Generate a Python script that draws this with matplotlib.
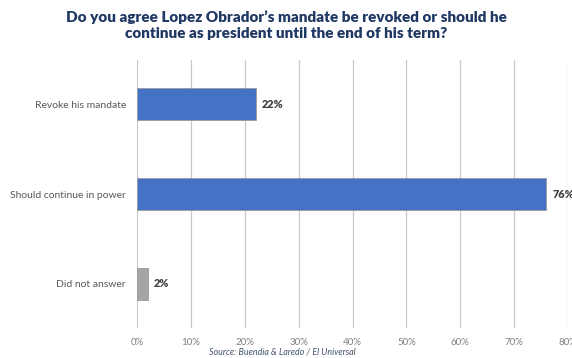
import matplotlib
matplotlib.use("Agg")
import matplotlib.pyplot as plt

categories = ["Revoke his mandate", "Should continue in power", "Did not answer"]
values = [22, 76, 2]
colors = ["#4472C4", "#4472C4", "#A5A5A5"]
xticks = [0, 10, 20, 30, 40, 50, 60, 70, 80]
xticklabels = ["0%", "10%", "20%", "30%", "40%", "50%", "60%", "70%", "80%"]

plt.rcParams['font.family'] = ['Lato', 'DejaVu Sans']

fig = plt.figure(figsize=(5.72, 3.58), dpi=100)
ax = fig.add_axes([137/572, 1-328/358, 431/572, (328-60)/358])

y = list(range(len(categories)))
ax.barh(y, values, height=0.36, color=colors, edgecolor="#9a9a9a", linewidth=0.6, zorder=3)
for yi, v in zip(y, values):
    ax.text(v + 1.1, yi, f"{v}%", va="center", ha="left", fontsize=7.8,
            fontweight="heavy", color="#404040")

ax.set_ylim(2.49, -0.49)
ax.set_xlim(0, 80)
ax.set_xticks(xticks)
ax.set_xticklabels(xticklabels, fontsize=7, color="#7f7f7f")
ax.set_yticks(y)
ax.set_yticklabels(categories, fontsize=7.5, color="#595959")
ax.tick_params(axis="y", length=0, pad=8)
ax.tick_params(axis="x", length=0, pad=7)
ax.grid(axis="x", color="#c8c8c8", linewidth=0.9, zorder=0)
for s in ax.spines.values():
    s.set_visible(False)

fig.text(0.5, 1-25/358, "Do you agree Lopez Obrador’s mandate be revoked or should he\ncontinue as president until the end of his term?",
         ha="center", va="center", fontsize=11, fontweight="heavy", color="#203864",
         linespacing=1.2)
fig.text(0.493, 1-352/358, "Source: Buendia & Laredo / El Universal", ha="center", va="center",
         fontsize=6.4, style="italic", color="#44546A")

fig.savefig("out.png", dpi=100)
